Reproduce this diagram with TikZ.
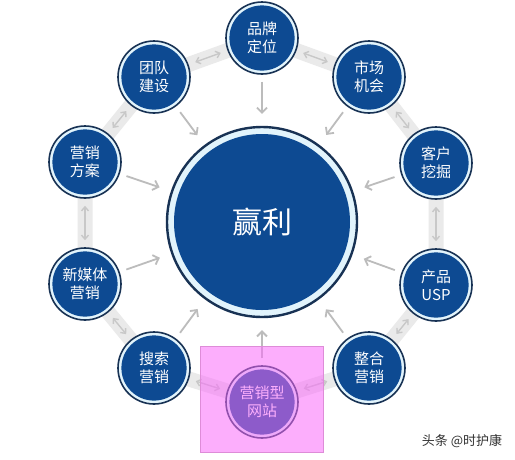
\documentclass[tikz,border=0pt]{standalone}
\usepackage{fontspec}
\newfontfamily\cjk{Noto Sans CJK SC}
\usetikzlibrary{arrows.meta}
\definecolor{bluec}{RGB}{13,74,146}
\definecolor{navyc}{RGB}{24,50,84}
\definecolor{ringc}{RGB}{226,244,252}
\definecolor{bandc}{RGB}{234,234,234}
\definecolor{arrc}{RGB}{188,188,188}
\definecolor{darrc}{RGB}{200,200,200}
\definecolor{pinkc}{RGB}{250,106,250}
\definecolor{pinkline}{RGB}{222,140,216}
\definecolor{wmc}{RGB}{50,50,50}
\tikzset{
  spoke/.style={circle, minimum size=72pt, inner sep=0pt, fill=ringc, draw=navyc,
    line width=1.6pt, text=white, align=center,
    font=\cjk\fontsize{15}{18}\selectfont,
    path picture={\fill[bluec] (path picture bounding box.center) circle (32.6pt);}},
  hub/.style={circle, minimum size=190pt, inner sep=0pt, fill=ringc, draw=navyc,
    line width=2.4pt, text=white, font=\cjk\fontsize{30}{34}\selectfont,
    path picture={\fill[bluec] (path picture bounding box.center) circle (88pt);}},
  band/.style={line width=15pt, draw=bandc, line join=round},
  ring/.style={line width=1.4pt, draw=darrc, {Straight Barb[length=4pt,width=7pt]}-{Straight Barb[length=4pt,width=7pt]}, shorten <=7pt, shorten >=7pt},
  tohub/.style={line width=1.8pt, draw=arrc, -{Straight Barb[length=5pt,width=10pt]}, shorten <=7pt, shorten >=12pt},
  highlight/.style={fill=pinkc, fill opacity=0.54, draw=pinkline, line width=1pt},
  wmark/.style={font=\cjk\fontsize{13}{15}\selectfont, text=wmc}
}
\begin{document}
\begin{tikzpicture}[x=1pt,y=-1pt]
\fill[white] (0,0) rectangle (515,459);
\useasboundingbox (0,0) rectangle (515,459);
% centres
\coordinate (c0) at (262,38);
\coordinate (c1) at (369,77);
\coordinate (c2) at (436,163);
\coordinate (c3) at (436,285);
\coordinate (c4) at (369,368);
\coordinate (c5) at (262,402);
\coordinate (c6) at (154,368);
\coordinate (c7) at (85,284);
\coordinate (c8) at (85,162);
\coordinate (c9) at (154,77);
% band
\draw[band] (c0) -- (c1) -- (c2) -- (c3) -- (c4) -- (c5) -- (c6) -- (c7) -- (c8) -- (c9) -- cycle;
% nodes
\node[hub] (hub) at (262,222) {赢利};
\node[spoke] (n0) at (c0) {品牌\\定位};
\node[spoke] (n1) at (c1) {市场\\机会};
\node[spoke] (n2) at (c2) {客户\\挖掘};
\node[spoke] (n3) at (c3) {产品\\USP};
\node[spoke] (n4) at (c4) {整合\\营销};
\node[spoke] (n5) at (c5) {营销型\\网站};
\node[spoke] (n6) at (c6) {搜索\\营销};
\node[spoke] (n7) at (c7) {新媒体\\营销};
\node[spoke] (n8) at (c8) {营销\\方案};
\node[spoke] (n9) at (c9) {团队\\建设};
% ring arrows
\foreach \a/\b in {n0/n1,n1/n2,n2/n3,n3/n4,n4/n5,n5/n6,n6/n7,n7/n8,n8/n9,n9/n0}
  \draw[ring] (\a) -- (\b);
% arrows to hub
\foreach \a in {n0,n1,n2,n3,n4,n5,n6,n7,n8,n9}
  \draw[tohub] (\a) -- (hub);
% highlight
\draw[highlight] (200,346) rectangle (323,452);
% watermark
\node[wmark] (wm) at (462,441) {头条 @时护康};
\end{tikzpicture}
\end{document}
